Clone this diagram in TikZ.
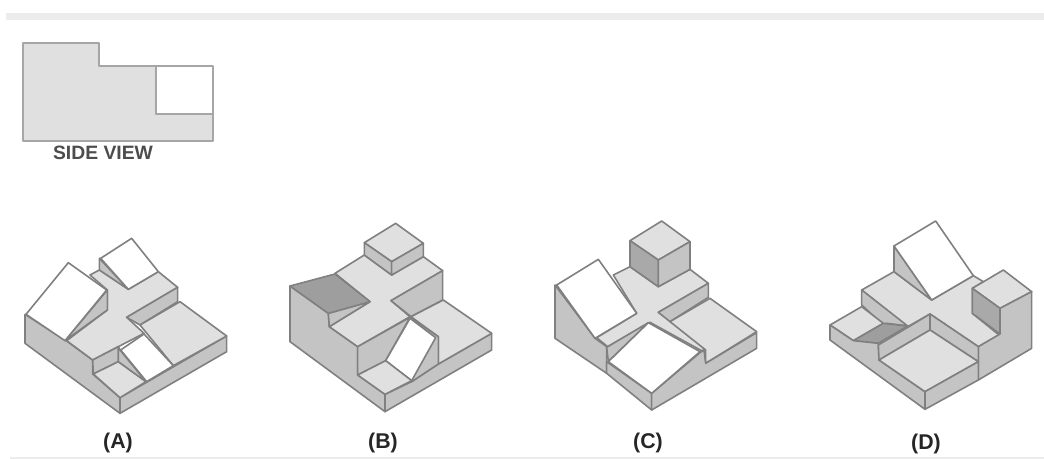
\documentclass[tikz,border=0pt]{standalone}
\usepackage{fontspec}
\setmainfont{Liberation Sans}
\usepackage{xcolor}
\definecolor{edgegray}{HTML}{808080}
\definecolor{toplight}{HTML}{E0E0E0}
\definecolor{sidemid}{HTML}{C4C4C4}
\definecolor{facedark}{HTML}{9E9E9E}
\definecolor{bandgray}{HTML}{ECECEC}
\tikzset{
    topface/.style={draw=edgegray, fill=toplight, line width=1.2pt, line join=round},
    sideface/.style={draw=edgegray, fill=sidemid, line width=1.2pt, line join=round},
    slopeface/.style={draw=edgegray, fill=white, line width=1.2pt, line join=round},
    darkface/.style={draw=edgegray, fill=facedark, line width=1.2pt, line join=round},
    optlabel/.style={text=black!85, font=\bfseries\fontsize{16}{18}\selectfont, inner sep=0pt},
}

\begin{document}
\begin{tikzpicture}[x=0.75pt, y=-0.75pt]
    \useasboundingbox (0, 0) rectangle (1044, 459);
    \fill[bandgray] (6, 13) rectangle (1044, 20);
    \fill[bandgray] (10, 457) rectangle (1044, 459);

    % side view
    \draw[topface, draw=edgegray!70, line width=1.5pt] (23, 43) -- (99, 43) -- (99, 66) -- (156, 66) -- (156, 114) -- (213, 114) -- (213, 141) -- (23, 141) -- cycle;
    \draw[slopeface, draw=edgegray!70, line width=1.5pt] (156, 66) rectangle (213, 114);
    \node[text=black!70, font=\bfseries\fontsize{14.5}{16}\selectfont, inner sep=0pt] (sideview) at (103, 153) {SIDE VIEW};

    % figure A
    \begin{scope}[shift={(10, 210)}, x=0.25pt, y=-0.25pt]
        \draw[sideface] (45, 313) -- (170, 393) -- (248, 450) -- (248, 492) -- (330, 563) -- (330, 610) -- (45, 400) -- cycle;
        \draw[sideface] (330, 563) -- (650, 378) -- (650, 425) -- (330, 610) -- cycle;
        \draw[topface] (170, 392) -- (292, 300) -- (292, 240) -- (240, 195) -- (268, 180) -- (355, 238) -- (445, 185) -- (503, 232) -- (350, 322) -- (402, 370) -- (325, 410) -- (248, 450) -- cycle;
        \draw[sideface] (350, 322) -- (503, 232) -- (503, 275) -- (390, 345) -- cycle;
        \draw[topface] (390, 345) -- (510, 275) -- (650, 378) -- (490, 467) -- cycle;
        \draw[sideface] (292, 240) -- (292, 300) -- (165, 392) -- cycle;
        \draw[slopeface] (48, 313) -- (175, 158) -- (290, 240) -- (165, 392) -- cycle;
        \draw[sideface] (268, 145) -- (355, 238) -- (268, 180) -- cycle;
        \draw[slopeface] (272, 145) -- (365, 85) -- (445, 185) -- (355, 238) -- cycle;
        \draw[sideface] (248, 450) -- (325, 410) -- (325, 455) -- (250, 492) -- cycle;
        \draw[topface] (250, 492) -- (325, 455) -- (408, 515) -- (330, 563) -- cycle;
        \draw[sideface] (330, 420) -- (408, 515) -- (325, 455) -- (325, 410) -- cycle;
        \draw[slopeface] (332, 420) -- (402, 372) -- (490, 467) -- (410, 515) -- cycle;
    \end{scope}
    \node[optlabel] (labA) at (118, 443) {(A)};

    % figure B
    \begin{scope}[shift={(275, 210)}, x=0.25pt, y=-0.25pt]
        \draw[sideface] (45, 228) -- (160, 310) -- (163, 350) -- (248, 410) -- (248, 495) -- (330, 553) -- (330, 605) -- (45, 395) -- cycle;
        \draw[sideface] (330, 553) -- (410, 515) -- (490, 462) -- (650, 370) -- (650, 420) -- (330, 605) -- cycle;
        \draw[topface] (180, 190) -- (268, 135) -- (350, 195) -- (445, 140) -- (503, 182) -- (348, 272) -- (405, 320) -- (248, 410) -- (163, 350) -- (285, 275) -- cycle;
        \draw[sideface] (348, 272) -- (503, 182) -- (503, 270) -- (408, 320) -- cycle;
        \draw[topface] (408, 320) -- (505, 270) -- (650, 370) -- (490, 462) -- (490, 380) -- cycle;
        \draw[sideface] (160, 310) -- (285, 275) -- (163, 350) -- cycle;
        \draw[darkface] (45, 228) -- (180, 192) -- (285, 275) -- (160, 310) -- cycle;
        \draw[topface] (268, 98) -- (362, 40) -- (445, 100) -- (350, 155) -- cycle;
        \draw[sideface] (268, 98) -- (350, 155) -- (350, 195) -- (268, 135) -- cycle;
        \draw[sideface] (350, 155) -- (445, 100) -- (445, 140) -- (350, 195) -- cycle;
        \draw[sideface] (248, 410) -- (405, 322) -- (332, 452) -- (248, 495) -- cycle;
        \draw[sideface] (405, 322) -- (490, 380) -- (490, 462) -- (410, 515) -- cycle;
        \draw[slopeface] (405, 325) -- (482, 383) -- (410, 512) -- (332, 452) -- cycle;
        \draw[topface] (248, 495) -- (332, 452) -- (410, 512) -- (330, 553) -- cycle;
    \end{scope}
    \node[optlabel] (labB) at (383, 443) {(B)};

    % figure C
    \begin{scope}[shift={(540, 210)}, x=0.25pt, y=-0.25pt]
        \draw[sideface] (45, 225) -- (165, 385) -- (200, 410) -- (200, 490) -- (45, 385) -- cycle;
        \draw[topface] (220, 195) -- (270, 170) -- (355, 230) -- (450, 178) -- (505, 220) -- (355, 307) -- (490, 405) -- (490, 425) -- (330, 337) -- (203, 410) -- (170, 383) -- (290, 310) -- cycle;
        \draw[sideface] (355, 307) -- (505, 220) -- (505, 262) -- (390, 335) -- cycle;
        \draw[topface] (390, 335) -- (510, 265) -- (650, 365) -- (497, 460) -- (497, 420) -- cycle;
        \draw[slopeface] (50, 225) -- (175, 148) -- (290, 310) -- (165, 385) -- cycle;
        \draw[topface] (270, 92) -- (365, 33) -- (450, 95) -- (355, 150) -- cycle;
        \draw[sideface, fill=facedark!70!sidemid] (270, 92) -- (355, 150) -- (355, 230) -- (270, 170) -- cycle;
        \draw[sideface] (355, 150) -- (450, 95) -- (450, 178) -- (355, 230) -- cycle;
        \draw[sideface] (200, 412) -- (325, 338) -- (205, 455) -- cycle;
        \draw[sideface] (200, 455) -- (335, 550) -- (335, 600) -- (200, 490) -- cycle;
        \draw[sideface] (335, 550) -- (480, 428) -- (492, 420) -- (497, 460) -- (650, 368) -- (650, 415) -- (335, 600) -- cycle;
        \draw[slopeface] (205, 455) -- (325, 338) -- (480, 425) -- (335, 550) -- cycle;
    \end{scope}
    \node[optlabel] (labC) at (648, 443) {(C)};

    % figure D
    \begin{scope}[shift={(815, 210)}, x=0.25pt, y=-0.25pt]
        \draw[topface] (140, 240) -- (237, 185) -- (350, 270) -- (475, 197) -- (505, 215) -- (472, 235) -- (472, 310) -- (552, 375) -- (490, 410) -- (345, 312) -- (278, 350) -- cycle;
        \draw[sideface] (237, 108) -- (350, 270) -- (237, 185) -- cycle;
        \draw[slopeface] (237, 108) -- (362, 33) -- (475, 197) -- (350, 270) -- cycle;
        \draw[topface] (472, 235) -- (565, 180) -- (650, 245) -- (555, 295) -- cycle;
        \draw[sideface, fill=facedark!70!sidemid] (472, 235) -- (555, 295) -- (555, 372) -- (472, 310) -- cycle;
        \draw[sideface] (555, 295) -- (650, 245) -- (650, 415) -- (490, 510) -- (490, 410) -- (555, 372) -- cycle;
        \draw[sideface] (140, 240) -- (278, 348) -- (215, 340) -- (205, 345) -- (140, 285) -- cycle;
        \draw[topface] (45, 345) -- (140, 290) -- (205, 340) -- (115, 392) -- cycle;
        \draw[darkface] (205, 340) -- (278, 348) -- (190, 400) -- (115, 392) -- cycle;
        \draw[sideface] (45, 345) -- (115, 392) -- (190, 400) -- (192, 450) -- (330, 545) -- (330, 598) -- (45, 390) -- cycle;
        \draw[sideface] (190, 405) -- (345, 312) -- (345, 360) -- (192, 450) -- cycle;
        \draw[sideface] (345, 312) -- (490, 410) -- (490, 455) -- (345, 360) -- cycle;
        \draw[topface] (192, 450) -- (345, 360) -- (490, 455) -- (330, 545) -- cycle;
        \draw[sideface] (330, 545) -- (490, 455) -- (490, 510) -- (330, 598) -- cycle;
    \end{scope}
    \node[optlabel] (labD) at (926, 444) {(D)};
\end{tikzpicture}
\end{document}
